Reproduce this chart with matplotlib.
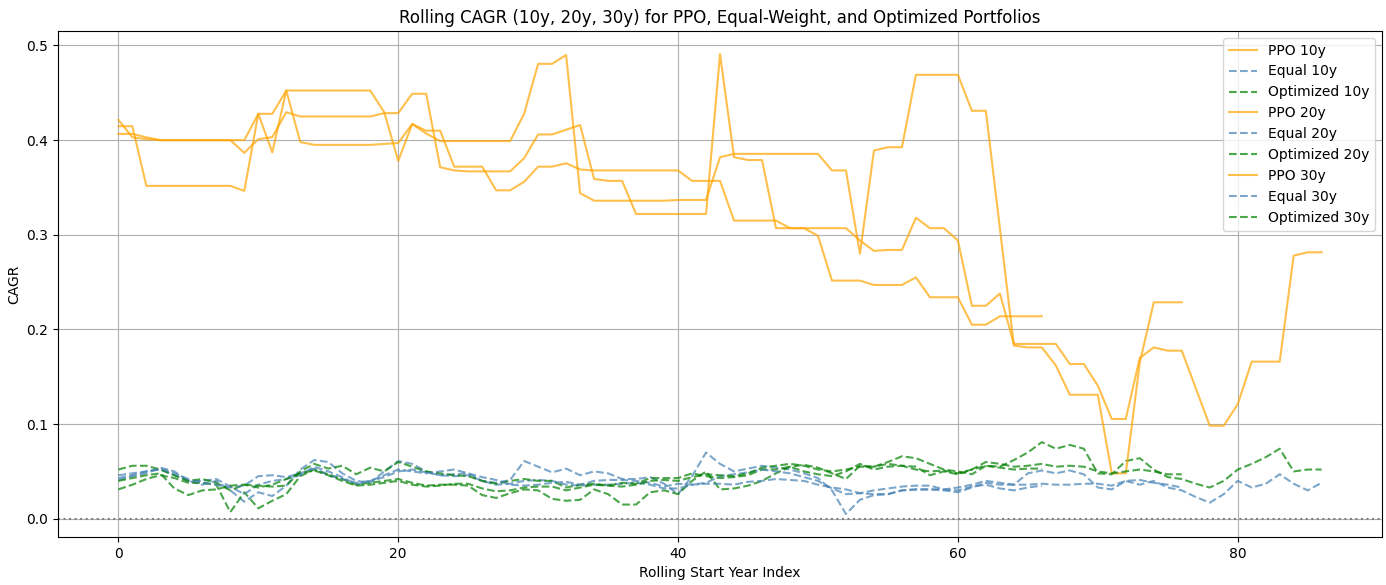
import matplotlib
matplotlib.use('Agg')
import matplotlib.pyplot as plt
import numpy as np

windows = ['10y', '20y', '30y']

ppo_10y = [0.4066, 0.4066, 0.403, 0.400, 0.400, 0.400, 0.400, 0.400, 0.400, 0.3866,
           0.401, 0.4032, 0.4295, 0.425, 0.425, 0.425, 0.425, 0.425, 0.425, 0.4285,
           0.4285, 0.449, 0.449, 0.3714, 0.368, 0.367, 0.367, 0.367, 0.367, 0.381,
           0.406, 0.406, 0.411, 0.416, 0.359, 0.357, 0.357, 0.322, 0.322, 0.322,
           0.322, 0.322, 0.322, 0.491, 0.382, 0.379, 0.379, 0.307, 0.307, 0.307,
           0.307, 0.307, 0.307, 0.294, 0.283, 0.284, 0.284, 0.318, 0.307, 0.307,
           0.294, 0.225, 0.225, 0.238, 0.1847, 0.1847, 0.1847, 0.1847, 0.1635, 0.1635,
           0.1406, 0.1054, 0.1054, 0.170, 0.181, 0.1776, 0.1776, 0.138, 0.0983, 0.0983,
           0.121, 0.166, 0.166, 0.166, 0.278, 0.2815, 0.2815]
ppo_20y = [0.4215, 0.403, 0.401, 0.400, 0.400, 0.400, 0.400, 0.400, 0.400, 0.400,
           0.4278, 0.387, 0.4524, 0.398, 0.395, 0.395, 0.395, 0.395, 0.395, 0.396,
           0.397, 0.417, 0.407, 0.399, 0.399, 0.399, 0.399, 0.399, 0.399, 0.428,
           0.4806, 0.4806, 0.490, 0.344, 0.336, 0.336, 0.336, 0.336, 0.336, 0.336,
           0.3368, 0.3368, 0.3368, 0.382, 0.3855, 0.3855, 0.3855, 0.3855, 0.3855, 0.3855,
           0.3855, 0.368, 0.368, 0.280, 0.389, 0.3925, 0.3925, 0.469, 0.469, 0.469,
           0.469, 0.431, 0.431, 0.307, 0.183, 0.181, 0.181, 0.162, 0.131, 0.131,
           0.131, 0.048, 0.048, 0.165, 0.2287, 0.2287, 0.2287]
ppo_30y = [0.4147, 0.4147, 0.3517, 0.3517, 0.3517, 0.3517, 0.3517, 0.3517, 0.3517, 0.3464,
           0.4278, 0.4278, 0.4524, 0.4524, 0.4524, 0.4524, 0.4524, 0.4524, 0.4524, 0.4295,
           0.378, 0.417, 0.410, 0.410, 0.372, 0.372, 0.372, 0.347, 0.347, 0.356,
           0.372, 0.372, 0.3756, 0.369, 0.368, 0.368, 0.368, 0.368, 0.368, 0.368,
           0.368, 0.357, 0.357, 0.357, 0.315, 0.315, 0.315, 0.315, 0.307, 0.307,
           0.299, 0.2516, 0.2516, 0.2516, 0.247, 0.247, 0.247, 0.255, 0.234, 0.234,
           0.234, 0.205, 0.205, 0.2139, 0.2139, 0.2139, 0.2139]

equal_10y = [0.041, 0.045, 0.048, 0.054, 0.050, 0.040, 0.036, 0.040, 0.030, 0.018,
             0.028, 0.024, 0.035, 0.052, 0.062, 0.060, 0.048, 0.040, 0.038, 0.050,
             0.061, 0.058, 0.050, 0.046, 0.047, 0.048, 0.040, 0.038, 0.041, 0.061,
             0.055, 0.049, 0.053, 0.046, 0.050, 0.048, 0.042, 0.042, 0.044, 0.037,
             0.026, 0.045, 0.070, 0.058, 0.050, 0.053, 0.056, 0.054, 0.052, 0.048,
             0.043, 0.030, 0.005, 0.020, 0.025, 0.026, 0.030, 0.031, 0.031, 0.030,
             0.028, 0.033, 0.038, 0.036, 0.036, 0.048, 0.051, 0.048, 0.051, 0.047,
             0.033, 0.031, 0.040, 0.036, 0.040, 0.033, 0.030, 0.023, 0.017, 0.026,
             0.040, 0.033, 0.037, 0.047, 0.037, 0.030, 0.038]
equal_20y = [0.046, 0.048, 0.050, 0.052, 0.046, 0.040, 0.040, 0.042, 0.034, 0.026,
             0.036, 0.040, 0.042, 0.046, 0.055, 0.050, 0.044, 0.036, 0.040, 0.044,
             0.050, 0.052, 0.049, 0.046, 0.045, 0.046, 0.040, 0.036, 0.037, 0.040,
             0.041, 0.040, 0.036, 0.035, 0.036, 0.036, 0.037, 0.038, 0.036, 0.032,
             0.032, 0.036, 0.037, 0.037, 0.036, 0.039, 0.040, 0.042, 0.041, 0.040,
             0.036, 0.033, 0.031, 0.027, 0.026, 0.026, 0.030, 0.031, 0.031, 0.031,
             0.033, 0.036, 0.040, 0.038, 0.036, 0.036, 0.037, 0.036, 0.036, 0.037,
             0.037, 0.035, 0.040, 0.041, 0.038, 0.036, 0.033]
equal_30y = [0.043, 0.046, 0.050, 0.053, 0.048, 0.042, 0.038, 0.036, 0.033, 0.035,
             0.045, 0.046, 0.044, 0.048, 0.053, 0.046, 0.042, 0.038, 0.040, 0.046,
             0.052, 0.050, 0.048, 0.050, 0.052, 0.048, 0.044, 0.041, 0.036, 0.035,
             0.036, 0.038, 0.039, 0.036, 0.040, 0.041, 0.041, 0.040, 0.038, 0.034,
             0.037, 0.036, 0.038, 0.045, 0.047, 0.049, 0.052, 0.050, 0.048, 0.044,
             0.040, 0.032, 0.026, 0.027, 0.030, 0.032, 0.034, 0.035, 0.035, 0.031,
             0.030, 0.034, 0.036, 0.032, 0.030, 0.033, 0.035]

opt_10y = [0.031, 0.036, 0.042, 0.046, 0.043, 0.038, 0.038, 0.036, 0.007, 0.028,
           0.011, 0.019, 0.026, 0.045, 0.052, 0.047, 0.042, 0.036, 0.038, 0.040,
           0.042, 0.038, 0.035, 0.036, 0.036, 0.035, 0.025, 0.022, 0.027, 0.031,
           0.030, 0.021, 0.019, 0.020, 0.031, 0.026, 0.015, 0.015, 0.028, 0.030,
           0.026, 0.040, 0.050, 0.031, 0.032, 0.035, 0.040, 0.048, 0.055, 0.057,
           0.054, 0.048, 0.042, 0.056, 0.055, 0.060, 0.066, 0.064, 0.058, 0.052,
           0.050, 0.047, 0.056, 0.055, 0.062, 0.070, 0.081, 0.074, 0.078, 0.074,
           0.048, 0.047, 0.061, 0.064, 0.052, 0.044, 0.042, 0.037, 0.033, 0.040,
           0.052, 0.058, 0.065, 0.074, 0.050, 0.052, 0.052]
opt_20y = [0.052, 0.056, 0.056, 0.052, 0.046, 0.040, 0.042, 0.038, 0.030, 0.036,
           0.035, 0.034, 0.035, 0.050, 0.058, 0.053, 0.056, 0.047, 0.054, 0.050,
           0.060, 0.055, 0.050, 0.048, 0.046, 0.045, 0.040, 0.037, 0.040, 0.042,
           0.040, 0.040, 0.033, 0.036, 0.037, 0.035, 0.038, 0.037, 0.043, 0.043,
           0.043, 0.048, 0.045, 0.043, 0.044, 0.046, 0.052, 0.052, 0.055, 0.050,
           0.047, 0.045, 0.050, 0.058, 0.052, 0.055, 0.056, 0.055, 0.046, 0.050,
           0.047, 0.052, 0.060, 0.058, 0.055, 0.056, 0.058, 0.055, 0.056, 0.055,
           0.050, 0.048, 0.050, 0.052, 0.050, 0.047, 0.047]
opt_30y = [0.040, 0.043, 0.046, 0.048, 0.032, 0.025, 0.030, 0.031, 0.035, 0.036,
           0.033, 0.036, 0.042, 0.048, 0.051, 0.046, 0.040, 0.035, 0.036, 0.038,
           0.040, 0.036, 0.034, 0.035, 0.037, 0.037, 0.032, 0.029, 0.030, 0.033,
           0.034, 0.034, 0.030, 0.033, 0.036, 0.035, 0.034, 0.036, 0.040, 0.041,
           0.040, 0.044, 0.047, 0.046, 0.045, 0.048, 0.054, 0.056, 0.058, 0.056,
           0.052, 0.050, 0.052, 0.055, 0.055, 0.058, 0.056, 0.052, 0.050, 0.051,
           0.048, 0.052, 0.056, 0.054, 0.052, 0.053, 0.053]

ppo = {'10y': ppo_10y, '20y': ppo_20y, '30y': ppo_30y}
equal = {'10y': equal_10y, '20y': equal_20y, '30y': equal_30y}
opt = {'10y': opt_10y, '20y': opt_20y, '30y': opt_30y}

fig, ax = plt.subplots(figsize=(13.86, 5.85), dpi=100)
for w in windows:
    ax.plot(np.arange(len(ppo[w])), ppo[w], color='orange', alpha=0.7, label=f'PPO {w}')
    ax.plot(np.arange(len(equal[w])), equal[w], color='steelblue', linestyle='--', alpha=0.7, label=f'Equal {w}')
    ax.plot(np.arange(len(opt[w])), opt[w], color='green', linestyle='--', alpha=0.7, label=f'Optimized {w}')
ax.axhline(0, color='gray', linestyle=':')
ax.set_title('Rolling CAGR (10y, 20y, 30y) for PPO, Equal-Weight, and Optimized Portfolios')
ax.set_xlabel('Rolling Start Year Index')
ax.set_ylabel('CAGR')
ax.legend()
ax.grid(True)
plt.subplots_adjust(left=0.042, right=0.997, top=0.947, bottom=0.082)
plt.savefig('out.png')
